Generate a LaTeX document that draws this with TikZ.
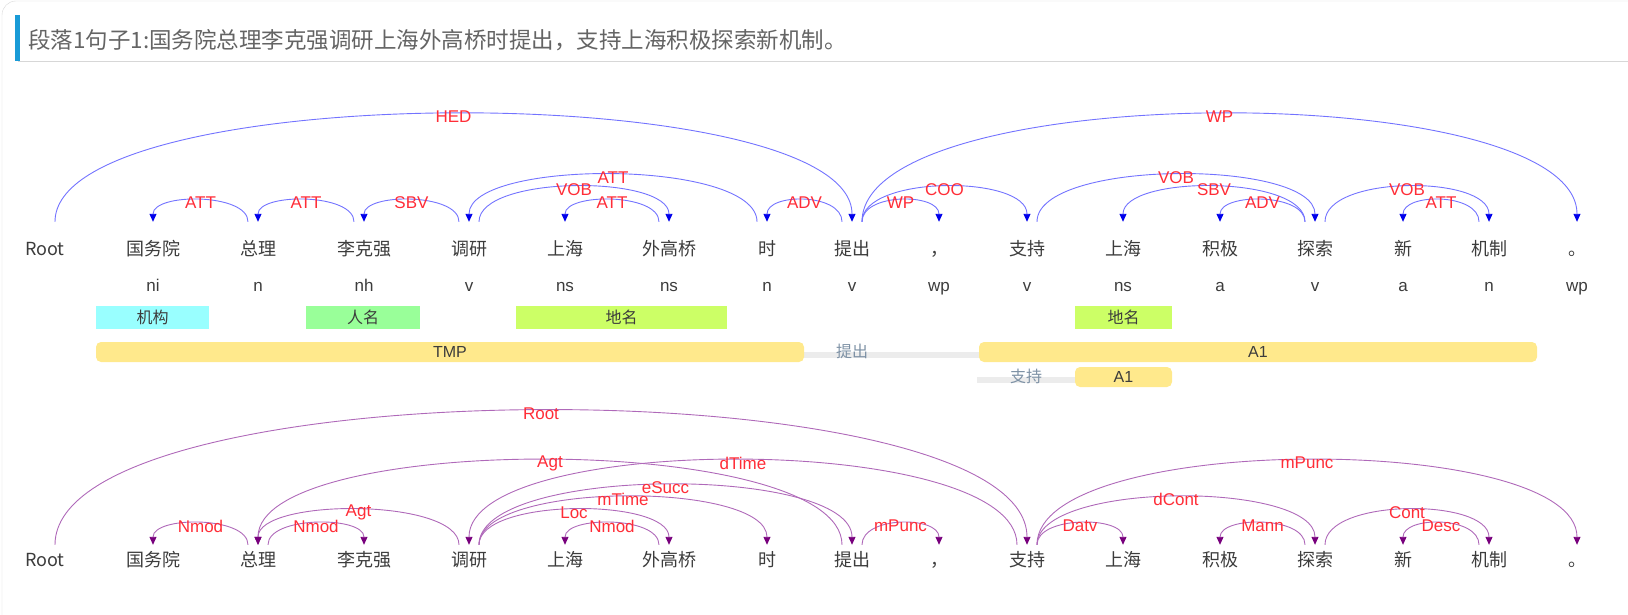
\documentclass[tikz,border=0pt]{standalone}
\usepackage{fontspec}
\setmainfont{Liberation Sans}
\newfontfamily\cjk{Noto Sans CJK SC}
\usetikzlibrary{arrows.meta}

\definecolor{arcblue}{RGB}{115,115,255}
\definecolor{tipblue}{RGB}{0,0,235}
\definecolor{arcpurple}{RGB}{175,105,185}
\definecolor{tippurple}{RGB}{120,0,125}
\definecolor{relred}{RGB}{255,45,55}
\definecolor{wordgray}{RGB}{60,60,60}
\definecolor{nercyan}{RGB}{153,255,255}
\definecolor{nergreen}{RGB}{153,255,153}
\definecolor{nerlime}{RGB}{204,255,102}
\definecolor{srlyellow}{RGB}{255,233,140}
\definecolor{bandgray}{RGB}{236,236,236}
\definecolor{predgray}{RGB}{125,145,165}
\definecolor{titlegray}{RGB}{100,100,100}
\definecolor{titleblue}{RGB}{25,155,215}
\definecolor{linegray}{RGB}{215,215,215}

% arc from head word to dependent word
\newcommand{\deparc}[6]{%
  \draw[#1] ([xshift=#3pt]#2.north) .. controls +(0,-#5) and +(0,-#5) .. (#4.north)
    node[rel, midway] (l-#2-#4) {#6};}

\begin{document}
\begin{tikzpicture}[
    x=1pt, y=-1pt,
    word/.style={font=\cjk\fontsize{18}{20}\selectfont, text=wordgray, inner sep=0pt, text height=15pt, text depth=3pt},
    topword/.style={word, minimum height=54pt},
    botword/.style={word, minimum height=30pt},
    postag/.style={font=\fontsize{17}{19}\selectfont, text=wordgray, inner sep=0pt, anchor=base},
    rel/.style={font=\fontsize{17}{19}\selectfont, text=relred, inner sep=0pt, yshift=-3pt},
    dep/.style={arcblue, line width=0.9pt, -{Triangle[width=7pt,length=8pt,color=tipblue]}},
    sdp/.style={arcpurple, line width=0.9pt, -{Triangle[width=7pt,length=8pt,color=tippurple]}},
    ner/.style={minimum height=23pt, inner sep=0pt, font=\cjk\fontsize{16}{18}\selectfont, text=wordgray},
    srl/.style={rounded corners=5pt, fill=srlyellow, minimum height=20pt, inner sep=0pt, font=\fontsize{16}{18}\selectfont, text=wordgray},
    pred/.style={font=\cjk\fontsize{16}{18}\selectfont, text=predgray, inner sep=0pt}
]
\useasboundingbox (0,0) rectangle (1628,615);

% panel and title
\draw[linegray, rounded corners=14pt] (2,615) -- (2,1) -- (1628,1);
\fill[titleblue] (15,15) rectangle (20,61);
\draw[linegray] (18,61) -- (1628,61);
\node[anchor=west, font=\cjk\fontsize{22.5}{24}\selectfont, text=titlegray, inner sep=0pt] (title) at (28,40)
  {段落1句子1:国务院总理李克强调研上海外高桥时提出，支持上海积极探索新机制。};

% words
\foreach \x/\w [count=\i from 0] in {45/Root,153/国务院,258/总理,364/李克强,469/调研,565/上海,669/外高桥,767/时,852/提出,939/，,1027/支持,1123/上海,1220/积极,1315/探索,1403/新,1489/机制,1577/。}{
  \node[topword] (tw\i) at (\x,249) {\w};
  \node[botword] (bw\i) at (\x,560) {\w};
}
\foreach \x/\p [count=\i] in {153/ni,258/n,364/nh,469/v,565/ns,669/ns,767/n,852/v,939/wp,1027/v,1123/ns,1220/a,1315/v,1403/a,1489/n,1577/wp}
  \node[postag] (tp\i) at (\x,291) {\p};

% named entities
\node[ner, fill=nercyan, minimum width=113pt] (ner1) at (152.5,317.5) {机构};
\node[ner, fill=nergreen, minimum width=114pt] (ner2) at (363,317.5) {人名};
\node[ner, fill=nerlime, minimum width=211pt] (ner3) at (621.5,317.5) {地名};
\node[ner, fill=nerlime, minimum width=97pt] (ner4) at (1123.5,317.5) {地名};

% semantic roles
\fill[bandgray] (96,352) rectangle (1537,358);
\node[srl, minimum width=708pt] (tmp) at (450,352) {TMP};
\node[pred] (pred1) at (852,351) {提出};
\node[srl, minimum width=558pt] (arg1) at (1258,352) {A1};
\fill[bandgray] (977,377) rectangle (1075,383);
\node[pred] (pred2) at (1026,376) {支持};
\node[srl, minimum width=97pt] (arg2) at (1123.5,377) {A1};

% dependency arcs
\deparc{dep}{tw0}{10}{tw8}{144}{HED}
\deparc{dep}{tw2}{-10}{tw1}{29}{ATT}
\deparc{dep}{tw3}{-10}{tw2}{29}{ATT}
\deparc{dep}{tw4}{-10}{tw3}{29}{SBV}
\deparc{dep}{tw7}{-10}{tw4}{63}{ATT}
\deparc{dep}{tw4}{10}{tw6}{47}{VOB}
\deparc{dep}{tw6}{-10}{tw5}{29}{ATT}
\deparc{dep}{tw8}{-10}{tw7}{29}{ADV}
\deparc{dep}{tw8}{10}{tw9}{29}{WP}
\deparc{dep}{tw8}{10}{tw10}{47}{COO}
\deparc{dep}{tw8}{10}{tw16}{144}{WP}
\deparc{dep}{tw10}{10}{tw13}{63}{VOB}
\deparc{dep}{tw13}{-10}{tw11}{47}{SBV}
\deparc{dep}{tw13}{-10}{tw12}{29}{ADV}
\deparc{dep}{tw13}{10}{tw15}{47}{VOB}
\deparc{dep}{tw15}{-10}{tw14}{29}{ATT}

% semantic dependency arcs
\deparc{sdp}{bw0}{10}{bw10}{179}{Root}
\deparc{sdp}{bw2}{-10}{bw1}{29}{Nmod}
\deparc{sdp}{bw2}{10}{bw3}{29}{Nmod}
\deparc{sdp}{bw4}{-10}{bw2}{47}{Agt}
\deparc{sdp}{bw8}{-10}{bw2}{113}{Agt}
\deparc{sdp}{bw10}{-10}{bw4}{113}{dTime}
\deparc{sdp}{bw4}{10}{bw6}{47}{Loc}
\deparc{sdp}{bw4}{10}{bw7}{64}{mTime}
\deparc{sdp}{bw4}{10}{bw8}{80}{eSucc}
\deparc{sdp}{bw6}{-10}{bw5}{29}{Nmod}
\deparc{sdp}{bw8}{10}{bw9}{29}{mPunc}
\deparc{sdp}{bw10}{10}{bw11}{29}{Datv}
\deparc{sdp}{bw10}{10}{bw13}{64}{dCont}
\deparc{sdp}{bw10}{10}{bw16}{113}{mPunc}
\deparc{sdp}{bw13}{-10}{bw12}{29}{Mann}
\deparc{sdp}{bw13}{10}{bw15}{47}{Cont}
\deparc{sdp}{bw15}{-10}{bw14}{29}{Desc}
\end{tikzpicture}
\end{document}
